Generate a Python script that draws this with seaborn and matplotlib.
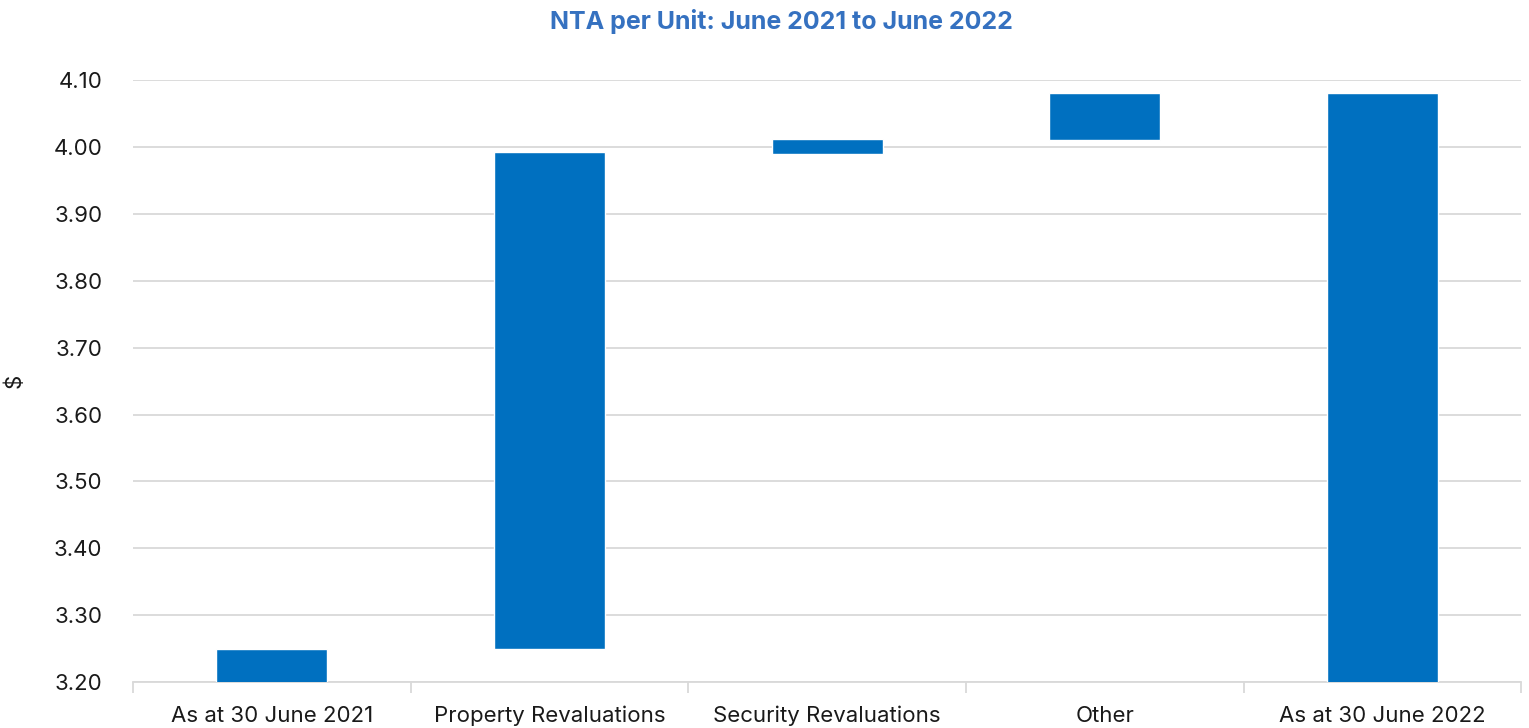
import matplotlib
matplotlib.use("Agg")
import matplotlib.pyplot as plt
import seaborn as sns
import pandas as pd
import numpy as np

# Waterfall of NTA per unit movements
categories = ["As at 30 June 2021", "Property Revaluations", "Security Revaluations",
              "Other", "As at 30 June 2022"]
bar_bottoms = [0.0, 3.25, 3.99, 4.01, 0.0]
bar_tops = [3.25, 3.992, 4.012, 4.08, 4.08]
y_ticks = [3.20, 3.30, 3.40, 3.50, 3.60, 3.70, 3.80, 3.90, 4.00, 4.10]

sns.set_theme(style="white")
plt.rcParams["font.family"] = ["Inter", "DejaVu Sans"]

df = pd.DataFrame({"category": categories, "top": bar_tops, "bottom": bar_bottoms})
df["height"] = df["top"] - df["bottom"]

fig = plt.figure(figsize=(15.29, 7.28), dpi=100)
ax = fig.add_axes([0.087, 0.063, 0.908, 0.827])

sns.barplot(data=df, x="category", y="height", bottom=df["bottom"].to_numpy(),
            color="#0070C0", saturation=1, width=0.4, ax=ax, zorder=3)

ax.set_ylim(3.20, 4.10)
ax.set_yticks(y_ticks)
ax.set_yticklabels([f"{v:.2f}" for v in y_ticks])
ax.set_xlim(-0.5, len(categories) - 0.5)

ax.grid(axis="y", color="#d9d9d9", linewidth=1.3, zorder=0)
ax.set_axisbelow(True)
for side in ["top", "right", "left"]:
    ax.spines[side].set_visible(False)
ax.spines["bottom"].set_color("#d9d9d9")
ax.spines["bottom"].set_linewidth(1.3)

# tick marks at category boundaries
ax.set_xticks(np.arange(-0.5, len(categories)), minor=True)
ax.tick_params(axis="x", which="minor", length=8, width=1.3, color="#d9d9d9", bottom=True)
ax.tick_params(axis="x", which="major", length=0, pad=17, labelsize=16, labelcolor="#1a1a1a")
ax.tick_params(axis="y", length=0, pad=22, labelsize=16, labelcolor="#1a1a1a")

ax.set_xlabel("")
ax.set_ylabel("$", fontsize=16, color="#1a1a1a")
ax.yaxis.set_label_coords(-0.078, 0.5)

fig.suptitle("NTA per Unit: June 2021 to June 2022", x=0.511, y=0.988,
             fontsize=18, fontweight="bold", color="#3571c0")

fig.savefig("out.png", dpi=100)
